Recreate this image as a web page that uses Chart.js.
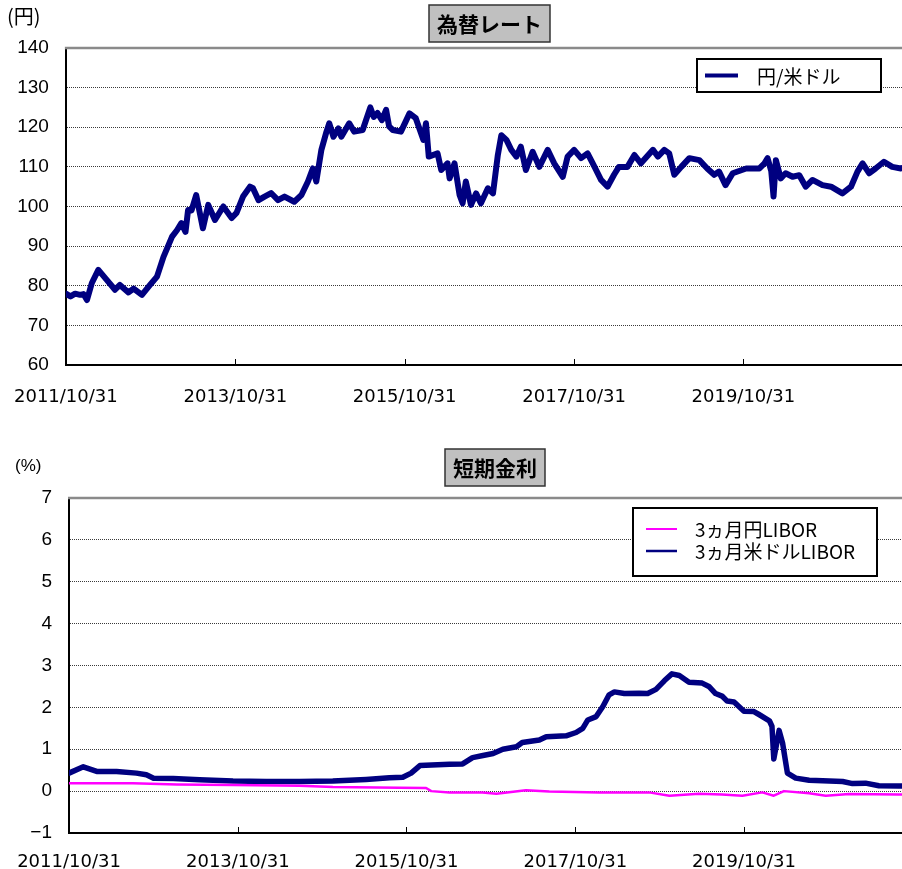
<!DOCTYPE html>
<html><head><meta charset="utf-8">
<script src="https://cdn.jsdelivr.net/npm/chart.js@4.4.1/dist/chart.umd.min.js"></script>
<style>
html,body{margin:0;padding:0;background:#fff;overflow:hidden;width:902px;height:869px;}
canvas{position:absolute;left:0;display:block;}
#c1{top:0;}
#c2{top:430px;}
</style></head><body>
<canvas id="c1" width="902" height="430"></canvas>
<canvas id="c2" width="902" height="439"></canvas>
<script>
// ---------- data ----------
const xTickLabels = ['2011/10/31','2013/10/31','2015/10/31','2017/10/31','2019/10/31'];
const xStart = '2011/10/31';
const xEnd = '2021/09/14';

const fxTitle = '為替レート';
const fxUnit = '(円)';
const fxLabel = '円/米ドル';
const fxYTicks = [60,70,80,90,100,110,120,130,140];
const fxDates = ['2011/10/31','2011/11/20','2011/12/10','2011/12/31','2012/01/15','2012/01/30','2012/02/20','2012/03/19','2012/04/17','2012/05/30','2012/06/20','2012/07/27',
 '2012/08/18','2012/09/23','2012/10/28','2012/11/27','2012/12/25','2013/01/31','2013/02/21','2013/03/12','2013/03/30','2013/04/10',
 '2013/04/25','2013/05/15','2013/06/13','2013/07/06','2013/08/04','2013/09/09','2013/10/15','2013/11/05','2013/12/03','2014/01/02',
 '2014/01/15','2014/02/08','2014/03/06','2014/04/03','2014/05/03','2014/05/31','2014/07/12','2014/08/12','2014/09/09','2014/09/30',
 '2014/10/15','2014/11/06','2014/11/28','2014/12/10','2014/12/28','2015/01/18','2015/01/31','2015/03/06','2015/03/27','2015/05/03',
 '2015/06/05','2015/06/20','2015/07/06','2015/07/25','2015/08/12','2015/08/25','2015/09/10','2015/10/15','2015/11/21','2015/12/18','2016/01/20','2016/01/31','2016/02/12',
 '2016/03/21','2016/04/06','2016/05/03','2016/05/12','2016/06/02','2016/06/24','2016/07/07','2016/07/21','2016/08/12','2016/09/03',
 '2016/09/24','2016/10/24','2016/11/15','2016/12/06','2016/12/21','2017/01/12','2017/02/02','2017/02/24','2017/03/15','2017/04/06',
 '2017/05/05','2017/06/03','2017/07/09','2017/08/06','2017/09/12','2017/10/03','2017/10/31','2017/11/30','2017/12/28','2018/01/27',
 '2018/02/24','2018/03/24','2018/04/21','2018/05/12','2018/06/18','2018/07/18','2018/08/15','2018/10/06','2018/10/27','2018/11/24',
 '2018/12/15','2019/01/06','2019/02/05','2019/03/12','2019/04/24','2019/05/28','2019/06/27','2019/07/18','2019/08/15','2019/09/15',
 '2019/11/12','2020/01/08','2020/01/30','2020/02/12','2020/02/28','2020/03/09','2020/03/19','2020/04/09','2020/04/30','2020/05/30',
 '2020/06/28','2020/07/26','2020/08/24','2020/10/06','2020/11/12','2020/12/31','2021/02/06','2021/03/06','2021/03/28','2021/04/25',
 '2021/05/23','2021/06/28','2021/08/03','2021/09/09','2021/09/30'];
const fxValues = [78.0,77.3,78.0,77.7,77.9,76.4,80.7,84.0,82.0,79.0,80.2,78.3,
 79.3,77.7,80.2,82.3,87.3,92.4,94.0,95.8,93.6,99.1,
 99.0,102.9,94.5,100.4,96.6,100.0,97.1,98.4,102.5,105.0,
 104.6,101.6,102.5,103.4,101.6,102.5,101.2,102.9,106.3,109.6,
 106.3,114.3,118.9,121.0,117.6,119.7,117.6,121.0,118.9,119.3,
 125.0,122.6,123.6,121.8,124.4,120.2,119.3,118.9,123.5,122.3,116.8,121.0,112.6,
 113.4,109.2,110.9,107.1,110.9,102.9,100.8,106.3,100.4,103.3,
 100.8,104.6,103.3,113.0,118.0,116.8,114.3,112.6,115.1,109.2,
 113.8,110.0,114.3,110.9,107.5,112.6,114.3,112.2,113.4,110.0,
 106.7,105.0,108.0,110.0,110.0,113.0,110.9,114.3,112.6,114.3,
 113.4,108.0,110.0,112.2,111.7,109.6,108.0,108.8,105.4,108.4,
 109.6,109.6,110.9,112.2,109.0,102.5,111.7,107.1,108.4,107.5,
 107.9,105.0,106.7,105.4,105.0,103.3,105.0,108.8,110.9,108.4,
 109.6,111.3,110.0,109.6,110.0];

const rateTitle = '短期金利';
const rateUnit = '(%)';
const rateYTicks = [-1,0,1,2,3,4,5,6,7];
const jpyLabel = '3ヵ月円LIBOR';
const jpyDates = ['2011/10/31','2012/08/03','2013/02/09','2013/10/10','2014/07/24','2014/12/16','2015/09/30','2016/01/24','2016/02/15','2016/05/04',
 '2016/09/24','2016/11/23','2017/03/31','2017/07/10','2018/02/12','2018/09/15','2018/12/12','2019/04/19','2019/07/28','2019/10/24',
 '2020/01/18','2020/03/08','2020/04/21','2020/08/08','2020/10/19','2021/01/28','2021/08/31','2021/09/30'];
const jpyValues = [0.19,0.19,0.16,0.145,0.13,0.10,0.08,0.075,0.0,-0.03,
 -0.03,-0.06,0.02,-0.01,-0.03,-0.03,-0.11,-0.06,-0.08,-0.11,
 -0.03,-0.11,0.0,-0.05,-0.11,-0.07,-0.08,-0.08];
const usdLabel = '3ヵ月米ドルLIBOR';
const usdDates = ['2011/10/31','2012/01/01','2012/02/28','2012/05/24','2012/08/18','2012/09/30','2012/10/31','2013/01/24','2013/05/18','2013/10/10',
 '2014/03/03','2014/07/24','2014/12/16','2015/05/09','2015/08/18','2015/10/15','2015/11/20','2015/12/28','2016/05/04','2016/06/30',
 '2016/08/12','2016/09/26','2016/11/09','2016/12/21','2017/02/18','2017/03/15','2017/05/28','2017/06/27','2017/09/21','2017/11/03',
 '2017/12/02','2017/12/24','2018/01/29','2018/02/27','2018/03/26','2018/04/18','2018/05/31','2018/08/03','2018/09/09','2018/10/15',
 '2018/11/21','2018/12/23','2019/01/24','2019/03/07','2019/05/03','2019/06/01','2019/06/30','2019/07/28','2019/08/19','2019/09/18',
 '2019/10/31','2019/12/13','2020/01/04','2020/02/18','2020/02/29','2020/03/08','2020/03/31','2020/04/15','2020/05/06','2020/06/11',
 '2020/08/08','2020/12/31','2021/02/12','2021/04/09','2021/06/06','2021/08/31','2021/09/30'];
const usdValues = [0.43,0.58,0.47,0.47,0.43,0.39,0.31,0.30,0.27,0.24,
 0.23,0.23,0.24,0.28,0.32,0.33,0.43,0.61,0.64,0.65,
 0.80,0.85,0.90,1.00,1.06,1.16,1.22,1.30,1.32,1.40,
 1.50,1.70,1.78,2.02,2.30,2.37,2.33,2.34,2.33,2.43,
 2.64,2.80,2.76,2.60,2.58,2.50,2.33,2.27,2.15,2.13,
 1.91,1.90,1.83,1.68,1.55,0.77,1.45,1.15,0.43,0.31,
 0.26,0.23,0.18,0.19,0.13,0.12,0.12];

// ---------- helpers ----------
const dayNum = s => { const [y,m,d] = s.split('/').map(Number); const [y0,m0,d0] = xStart.split('/').map(Number);
  return (Date.UTC(y,m-1,d) - Date.UTC(y0,m0-1,d0)) / 864e5; };
const pts = (dates, vals) => dates.map((d,i) => ({x: dayNum(d), y: vals[i]}));

const NAVY = '#000080', PINK = '#ff00ff';
const yTickFont = {family: '"Liberation Sans", Arial, sans-serif', size: 19};
const xTickFont = {family: '"DejaVu Sans", sans-serif', size: 18};
const jpFont = '"Noto Sans CJK JP", sans-serif';

function decorPlugin(o) {
  return {
    id: 'decor',
    afterDraw(chart) {
      const {ctx, chartArea: a, scales: {x}} = chart;
      ctx.save();
      // top frame line
      ctx.strokeStyle = '#8a8a8a'; ctx.lineWidth = 2.5;
      ctx.beginPath(); ctx.moveTo(a.left - 1, a.top); ctx.lineTo(a.right, a.top); ctx.stroke();
      // inward x tick marks
      ctx.strokeStyle = '#000'; ctx.lineWidth = 1;
      x.ticks.forEach(t => {
        const px = Math.round(x.getPixelForValue(t.value)) + 0.5;
        if (px < a.left + 3) return;
        ctx.beginPath(); ctx.moveTo(px, a.bottom); ctx.lineTo(px, a.bottom - 6); ctx.stroke();
      });
      // title box
      ctx.font = 'bold 21px ' + jpFont;
      const tw = ctx.measureText(o.title).width;
      const bw = tw + 16, bx = o.titleCx - bw / 2;
      ctx.fillStyle = '#c0c0c0';
      ctx.fillRect(bx, o.titleTop, bw, 37);
      ctx.strokeStyle = '#333'; ctx.lineWidth = 1.5;
      ctx.strokeRect(bx, o.titleTop, bw, 37);
      ctx.fillStyle = '#000'; ctx.textAlign = 'center'; ctx.textBaseline = 'middle';
      ctx.fillText(o.title, o.titleCx, o.titleTop + 19);
      // unit label
      ctx.font = o.unitFont; ctx.textAlign = 'left';
      ctx.fillText(o.unit, o.unitX, o.unitY);
      // legend box
      const L = o.legend;
      const lx = a.right - L.rightGap - L.w, ly = a.top + L.topGap;
      ctx.fillStyle = '#fff'; ctx.fillRect(lx, ly, L.w, L.h);
      ctx.strokeStyle = '#000'; ctx.lineWidth = 2; ctx.strokeRect(lx, ly, L.w, L.h);
      ctx.font = '19px ' + jpFont; ctx.textBaseline = 'middle';
      L.items.forEach((it, i) => {
        const ds = chart.data.datasets[it.ds];
        const cy = ly + L.firstY + i * L.rowH;
        ctx.strokeStyle = ds.borderColor; ctx.lineWidth = it.lw;
        ctx.beginPath(); ctx.moveTo(lx + L.lineX0, cy); ctx.lineTo(lx + L.lineX1, cy); ctx.stroke();
        ctx.fillStyle = '#000'; ctx.fillText(ds.label, lx + L.textX, cy + 1);
      });
      ctx.restore();
    }
  };
}

function makeOptions(cfg) {
  return {
    responsive: false, animation: false, events: [],
    layout: {padding: {top: cfg.padTop, left: 0, right: 0, bottom: 0}},
    plugins: {legend: {display: false}, title: {display: false}, tooltip: {enabled: false}},
    elements: {point: {radius: 0}, line: {tension: 0, borderJoinStyle: 'round', borderCapStyle: 'round'}},
    scales: {
      x: {
        type: 'linear', min: 0, max: dayNum(xEnd),
        afterBuildTicks: s => { s.ticks = xTickLabels.map(l => ({value: dayNum(l)})); },
        afterFit: s => { s.height = cfg.xH; },
        grid: {display: false},
        border: {display: true, color: '#000', width: 2},
        ticks: {autoSkip: false, maxRotation: 0, minRotation: 0, padding: cfg.xPad, color: '#000', font: xTickFont,
          callback: (v, i) => xTickLabels[i]}
      },
      y: {
        min: cfg.yTicks[0], max: cfg.yTicks[cfg.yTicks.length - 1],
        afterBuildTicks: s => { s.ticks = cfg.yTicks.map(v => ({value: v})); },
        afterFit: s => { s.width = cfg.yW; },
        grid: {color: '#3a3a3a', lineWidth: 1, drawTicks: false},
        border: {display: true, color: '#000', width: 2, dash: [1, 1]},
        ticks: {padding: 17, color: '#000', font: yTickFont,
          callback: v => (v < 0 ? '\u2212' + Math.abs(v) : String(v))}
      }
    }
  };
}

new Chart(document.getElementById('c1'), {
  type: 'line',
  data: {datasets: [
    {label: fxLabel, data: pts(fxDates, fxValues), borderColor: NAVY, borderWidth: 6, fill: false}
  ]},
  options: makeOptions({padTop: 48, xH: 65, xPad: 14, yW: 64, yTicks: fxYTicks}),
  plugins: [decorPlugin({
    title: fxTitle, titleCx: 489.5, titleTop: 5,
    unit: fxUnit, unitFont: '20px ' + jpFont, unitX: 7, unitY: 16,
    legend: {w: 184, h: 33, rightGap: 21, topGap: 11, firstY: 16.5, rowH: 0, lineX0: 8, lineX1: 41, textX: 60,
      items: [{ds: 0, lw: 4}]}
  })]
});

new Chart(document.getElementById('c2'), {
  type: 'line',
  data: {datasets: [
    {label: jpyLabel, data: pts(jpyDates, jpyValues), borderColor: PINK, borderWidth: 2.5, fill: false},
    {label: usdLabel, data: pts(usdDates, usdValues), borderColor: NAVY, borderWidth: 5.5, fill: false}
  ]},
  options: makeOptions({padTop: 68, xH: 36, xPad: 11, yW: 69, yTicks: rateYTicks}),
  plugins: [decorPlugin({
    title: rateTitle, titleCx: 495, titleTop: 19,
    unit: rateUnit, unitFont: '17px "Liberation Sans", sans-serif', unitX: 15, unitY: 36,
    legend: {w: 244, h: 68, rightGap: 25, topGap: 10, firstY: 21, rowH: 22, lineX0: 13, lineX1: 44, textX: 62,
      items: [{ds: 0, lw: 2}, {ds: 1, lw: 2.5}]}
  })]
});
</script>
</body></html>
